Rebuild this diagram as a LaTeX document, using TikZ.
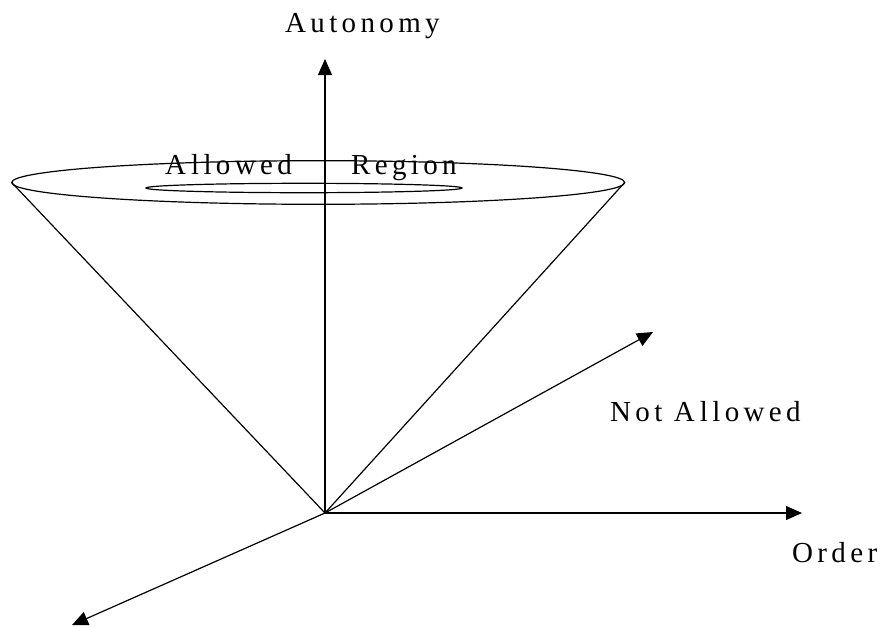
\documentclass[tikz,border=0pt]{standalone}
\usepackage{fontspec}
\setmainfont{Liberation Serif}
\newfontfamily\lblfont[LetterSpace=15]{Liberation Serif}
\usetikzlibrary{arrows.meta}
\tikzset{
  axis/.style={line width=1.2pt, -{Triangle[length=16pt,width=14pt]}},
  edge/.style={line width=1.2pt},
  lbl/.style={inner sep=0pt, anchor=base west, font=\lblfont\fontsize{29}{32}\selectfont}
}
\begin{document}
\begin{tikzpicture}[x=1pt,y=-1pt]
\useasboundingbox (0,0) rectangle (886,627);
% key points
\coordinate (O) at (325,513);
\coordinate (Up) at (325,59);
\coordinate (Right) at (802,513);
\coordinate (Diag) at (653,332);
\coordinate (DownLeft) at (72,625);
\coordinate (ConeL) at (11.7,182.5);
\coordinate (ConeR) at (624.7,182.5);
\coordinate (OuterC) at (318.2,182.5);
\coordinate (InnerC) at (304,188);
% ellipses
\draw[edge] (OuterC) ellipse [x radius=306.5, y radius=21.8];
\draw[edge] (InnerC) ellipse [x radius=158, y radius=4.7];
% cone
\draw[edge] (ConeL) -- (O) -- (ConeR);
% axes
\draw[axis] (O) -- (Up);
\draw[axis] (O) -- (Right);
\draw[axis] (O) -- (Diag);
\draw[axis] (O) -- (DownLeft);
% labels
\node[lbl] (autonomy) at (285,32) {Autonomy};
\node[lbl] (allowed) at (165,174) {A\kern5pt llowed};
\node[lbl] (region) at (351,174) {Region};
\node[lbl] (notallowed) at (610,421) {Not A\kern5pt llowed};
\node[lbl] (order) at (792,562) {Order};
\end{tikzpicture}
\end{document}
